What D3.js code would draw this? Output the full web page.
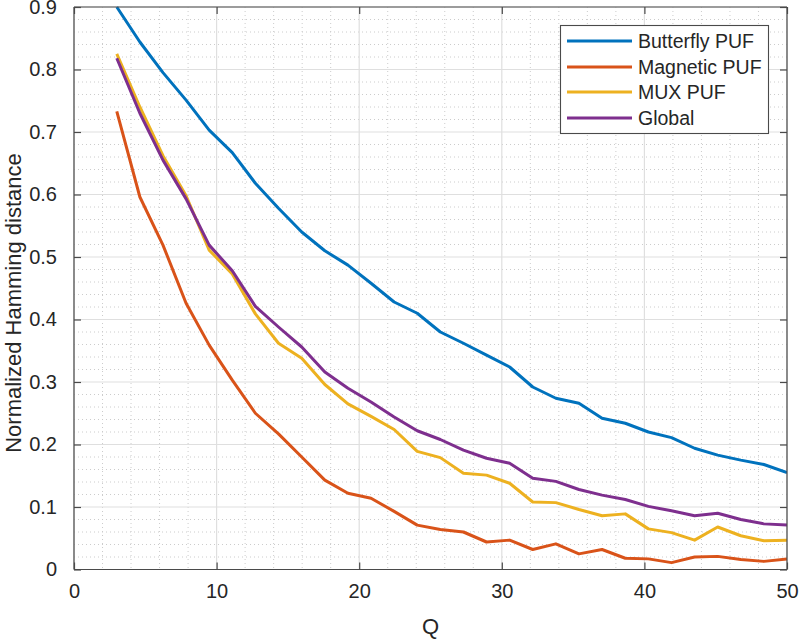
<!DOCTYPE html>
<html>
<head>
<meta charset="utf-8">
<script src="https://cdn.jsdelivr.net/npm/d3@7"></script>
<style>
  html, body { margin: 0; padding: 0; background: #ffffff; }
  svg { display: block; }
  text { font-family: "Liberation Sans", Arial, Helvetica, sans-serif; fill: #262626; }
</style>
</head>
<body>
<svg id="chart" width="800" height="639"></svg>
<script>
// ---- data ----
const qValues = [3.00, 4.62, 6.24, 7.86, 9.48, 11.10, 12.72, 14.34, 15.97, 17.59,
                 19.21, 20.83, 22.45, 24.07, 25.69, 27.31, 28.93, 30.55, 32.17, 33.79,
                 35.41, 37.03, 38.66, 40.28, 41.90, 43.52, 45.14, 46.76, 48.38, 50.00];
const butterfly = [0.900, 0.844, 0.795, 0.751, 0.703, 0.667, 0.618, 0.578, 0.540, 0.510,
                   0.487, 0.458, 0.428, 0.410, 0.380, 0.362, 0.343, 0.324, 0.292, 0.274,
                   0.266, 0.242, 0.234, 0.220, 0.211, 0.194, 0.183, 0.175, 0.168, 0.155];
const magnetic = [0.733, 0.596, 0.519, 0.426, 0.359, 0.303, 0.250, 0.217, 0.180, 0.143,
                  0.122, 0.114, 0.093, 0.071, 0.064, 0.060, 0.044, 0.047, 0.032, 0.041,
                  0.025, 0.032, 0.018, 0.017, 0.011, 0.020, 0.021, 0.016, 0.013, 0.017];
const mux = [0.825, 0.740, 0.662, 0.598, 0.511, 0.473, 0.409, 0.362, 0.338, 0.296,
             0.265, 0.245, 0.224, 0.189, 0.179, 0.154, 0.151, 0.138, 0.108, 0.107,
             0.096, 0.086, 0.089, 0.065, 0.059, 0.047, 0.068, 0.054, 0.046, 0.047];
const globalHD = [0.818, 0.730, 0.655, 0.593, 0.519, 0.478, 0.421, 0.388, 0.356, 0.316,
                  0.290, 0.268, 0.244, 0.222, 0.208, 0.191, 0.178, 0.170, 0.146, 0.141,
                  0.128, 0.119, 0.112, 0.101, 0.094, 0.086, 0.090, 0.080, 0.073, 0.071];
const seriesNames = ["Butterfly PUF", "Magnetic PUF", "MUX PUF", "Global"];
const xTicks = [0, 10, 20, 30, 40, 50];
const yTicks = [0, 0.1, 0.2, 0.3, 0.4, 0.5, 0.6, 0.7, 0.8, 0.9];
const xTickLabels = ["0", "10", "20", "30", "40", "50"];
const yTickLabels = ["0", "0.1", "0.2", "0.3", "0.4", "0.5", "0.6", "0.7", "0.8", "0.9"];
const xMinorTicks = [2, 4, 6, 8, 12, 14, 16, 18, 22, 24, 26, 28, 32, 34, 36, 38, 42, 44, 46, 48];
const yMinorTicks = [];
for (let k = 1; k < 45; k++) { if (k % 5 !== 0) yMinorTicks.push(k * 0.02); }
const xLabel = "Q";
const yLabel = "Normalized Hamming distance";

// ---- layout ----
const colors = ["#0072BD", "#D95319", "#EDB120", "#7E2F8E"];
const L = 74, R = 787, T = 7, B = 569.5;
const svg = d3.select("#chart");
const x = d3.scaleLinear().domain([0, 50]).range([L, R]);
const y = d3.scaleLinear().domain([0, 0.9]).range([B, T]);

svg.append("rect").attr("x", 0).attr("y", 0).attr("width", 800).attr("height", 639).attr("fill", "#fff");

// minor grid
const grid = svg.append("g");
grid.selectAll(".mx").data(xMinorTicks).enter().append("line")
  .attr("x1", d => x(d)).attr("x2", d => x(d)).attr("y1", T).attr("y2", B)
  .attr("stroke", "#cccccc").attr("stroke-width", 1).attr("stroke-dasharray", "1,3");
grid.selectAll(".my").data(yMinorTicks).enter().append("line")
  .attr("y1", d => y(d)).attr("y2", d => y(d)).attr("x1", L).attr("x2", R)
  .attr("stroke", "#cccccc").attr("stroke-width", 1).attr("stroke-dasharray", "1,3");
// major grid
grid.selectAll(".gx").data(xTicks).enter().append("line")
  .attr("x1", d => x(d)).attr("x2", d => x(d)).attr("y1", T).attr("y2", B)
  .attr("stroke", "#dfdfdf").attr("stroke-width", 1.2);
grid.selectAll(".gy").data(yTicks).enter().append("line")
  .attr("y1", d => y(d)).attr("y2", d => y(d)).attr("x1", L).attr("x2", R)
  .attr("stroke", "#dfdfdf").attr("stroke-width", 1.2);

// lines
const allSeries = [butterfly, magnetic, mux, globalHD];
const line = d3.line().x((d, i) => x(qValues[i])).y(d => y(d));
svg.append("defs").append("clipPath").attr("id", "clip")
  .append("rect").attr("x", L).attr("y", T - 2).attr("width", R - L).attr("height", B - T + 2);
const lg = svg.append("g").attr("clip-path", "url(#clip)");
allSeries.forEach((s, k) => {
  lg.append("path").datum(s).attr("d", line)
    .attr("fill", "none").attr("stroke", colors[k]).attr("stroke-width", 3)
    .attr("stroke-linejoin", "round");
});

// axes
const axisColor = "#4a4a4a";
const tickLen = 7;
const xAxisB = d3.axisBottom(x).tickValues(xTicks).tickSize(-tickLen).tickFormat((d, i) => xTickLabels[i]).tickPadding(14);
const xAxisT = d3.axisTop(x).tickValues(xTicks).tickSize(-tickLen).tickFormat("");
const yAxisL = d3.axisLeft(y).tickValues(yTicks).tickSize(-tickLen).tickFormat((d, i) => yTickLabels[i]).tickPadding(17);
const yAxisR = d3.axisRight(y).tickValues(yTicks).tickSize(-tickLen).tickFormat("");

function style(g) {
  g.select(".domain").attr("stroke", axisColor).attr("stroke-width", 1.2);
  g.selectAll(".tick line").attr("stroke", axisColor).attr("stroke-width", 1.2);
  g.selectAll(".tick text").style("font-size", "20px").attr("fill", "#262626")
    .style("font-family", "'Liberation Sans', Arial, sans-serif");
}
svg.append("g").attr("transform", `translate(0,${B})`).call(xAxisB).call(style)
  .call(g => g.select(".domain").attr("d", `M${L},0H${R}`));
svg.append("g").attr("transform", `translate(0,${T})`).call(xAxisT).call(style)
  .call(g => g.select(".domain").attr("d", `M${L},0H${R}`));
svg.append("g").attr("transform", `translate(${L},0)`).call(yAxisL).call(style)
  .call(g => g.select(".domain").attr("d", `M0,${T}V${B}`));
svg.append("g").attr("transform", `translate(${R},0)`).call(yAxisR).call(style)
  .call(g => g.select(".domain").attr("d", `M0,${T}V${B}`));

// axis labels
svg.append("text").attr("x", (L + R) / 2).attr("y", 634).attr("text-anchor", "middle")
  .style("font-size", "22px").text(xLabel);
svg.append("text").attr("transform", `translate(21,303) rotate(-90)`)
  .attr("text-anchor", "middle").style("font-size", "22px").text(yLabel);

// legend
const leg = svg.append("g");
leg.append("rect").attr("x", 560.5).attr("y", 25.5).attr("width", 208).attr("height", 108)
  .attr("fill", "#fff").attr("stroke", axisColor).attr("stroke-width", 1.1);
const rowY = [41, 67, 92, 118];
seriesNames.forEach((n, k) => {
  leg.append("line").attr("x1", 567).attr("x2", 632).attr("y1", rowY[k]).attr("y2", rowY[k])
    .attr("stroke", colors[k]).attr("stroke-width", 3);
  leg.append("text").attr("x", 638).attr("y", rowY[k]).attr("dy", "0.36em")
    .style("font-size", "19.5px").text(n);
});
</script>
</body>
</html>
